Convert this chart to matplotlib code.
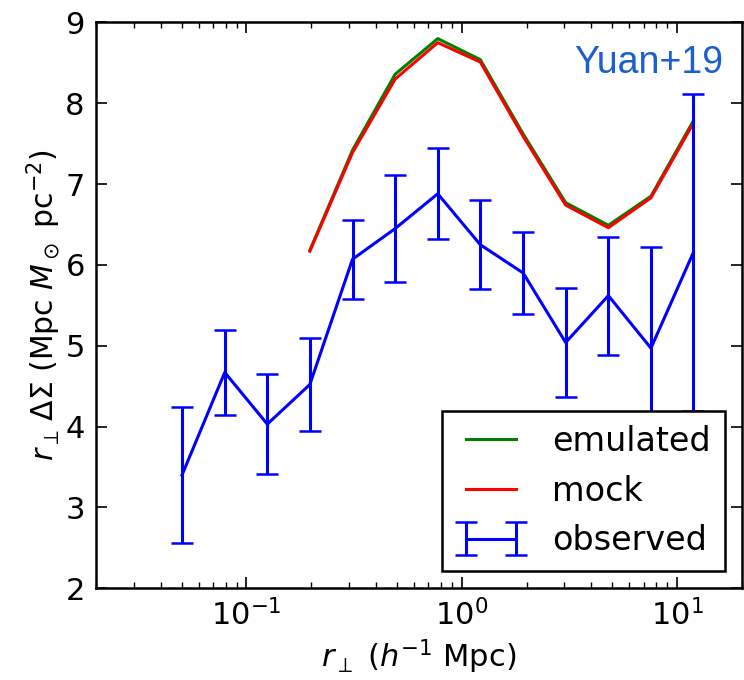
import matplotlib
matplotlib.use("Agg")
import matplotlib.pyplot as plt

# projected separation bins (h^-1 Mpc)
r_perp = [0.0502, 0.0793, 0.125, 0.197, 0.311, 0.491, 0.774, 1.22, 1.93, 3.04, 4.80, 7.57, 11.9]

# observed lensing signal r * DeltaSigma with 1-sigma errors
observed = [3.40, 4.67, 4.03, 4.52, 6.07, 6.45, 6.88, 6.25, 5.90, 5.04, 5.62, 4.97, 6.15]
observed_err = [0.845, 0.53, 0.62, 0.57, 0.49, 0.66, 0.565, 0.55, 0.505, 0.67, 0.73, 1.25, 1.96]

# model curves start at the fourth bin
r_model = r_perp[3:]
emulated = [6.18, 7.42, 8.36, 8.80, 8.54, 7.62, 6.77, 6.49, 6.85, 7.78]
mock = [6.17, 7.39, 8.30, 8.75, 8.51, 7.59, 6.74, 6.46, 6.83, 7.75]

plt.rcParams["font.family"] = "DejaVu Sans"
plt.rcParams["mathtext.fontset"] = "dejavusans"

fig = plt.figure(figsize=(7.44, 6.80), dpi=100)
ax = fig.add_axes([0.129, 0.135, 0.868, 0.832])

line_em, = ax.plot(r_model, emulated, color="g", lw=2.2, label="emulated")
line_mock, = ax.plot(r_model, mock, color="r", lw=2.2, label="mock")
eb = ax.errorbar(r_perp, observed, yerr=observed_err, color="b", lw=2.2,
                 capsize=8, capthick=1.8, label="observed")

ax.set_xscale("log")
ax.set_xlim(0.02, 20)
ax.set_ylim(2, 9)
ax.set_yticks(range(2, 10))

ax.tick_params(which="both", direction="in", top=True, right=True,
               labelsize=22, pad=8)
ax.tick_params(which="major", length=8, width=1.2)
ax.tick_params(which="minor", length=4, width=1.0)
for sp in ax.spines.values():
    sp.set_linewidth(1.8)

ax.set_xlabel(r"$r_\perp$ ($h^{-1}$ Mpc)", fontsize=22, labelpad=4)
ax.set_ylabel(r"$r_\perp\,\Delta\Sigma$ (Mpc $M_\odot$ pc$^{-2}$)", fontsize=21.5, labelpad=2)

leg = ax.legend([line_em, line_mock, eb], ["emulated", "mock", "observed"],
                loc="lower right", bbox_to_anchor=(0.974, 0.030), borderaxespad=0,
                fontsize=24, numpoints=2, fancybox=False, framealpha=1,
                handlelength=2.1, handletextpad=0.8, labelspacing=0.5,
                borderpad=0.42)
leg.get_frame().set_edgecolor("black")
leg.get_frame().set_linewidth(1.8)

fig.text(0.972, 0.893, "Yuan+19", color="#1a5fd1", fontsize=27,
         family="Liberation Sans", ha="right", va="baseline")

fig.savefig("out.png", dpi=100)
